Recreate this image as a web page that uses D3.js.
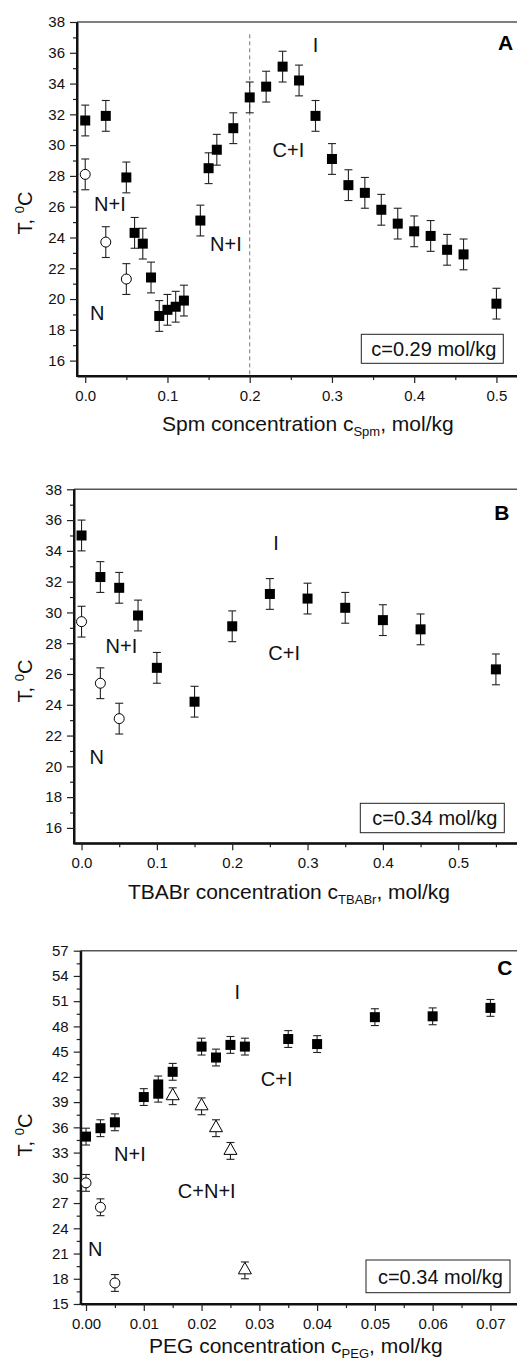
<!DOCTYPE html>
<html>
<head>
<meta charset="utf-8">
<script src="https://cdn.jsdelivr.net/npm/d3@7"></script>
<style>
body { margin: 0; background: #fff; }
svg { display: block; font-family: Arial, "Liberation Sans", sans-serif; }
.tick text { font-size: 15px; fill: #111; }
</style>
</head>
<body>
<div id="chart"></div>
<script>
var width = 517,
height = 1367;

var errT = 1; // all error bars are +-1 degC

// ---- panel A : Spm
var spmSqX = [0, 0.025, 0.05, 0.06, 0.07, 0.08, 0.09, 0.10, 0.11, 0.12, 0.14, 0.15, 0.16, 0.18, 0.20,
  0.22, 0.24, 0.26, 0.28, 0.30, 0.32, 0.34, 0.36, 0.38, 0.40, 0.42, 0.44, 0.46, 0.50];
var spmSqT = [31.6, 31.9, 27.9, 24.3, 23.6, 21.4, 18.9, 19.3, 19.5, 19.9, 25.1, 28.5, 29.7, 31.1, 33.1,
  33.8, 35.1, 34.2, 31.9, 29.1, 27.4, 26.9, 25.8, 24.9, 24.4, 24.1, 23.2, 22.9, 19.7];
var spmCircX = [0, 0.025, 0.05];
var spmCircT = [28.1, 23.7, 21.3];
var spmXTicks = [0, 0.1, 0.2, 0.3, 0.4, 0.5];
var spmXMinor = [0.05, 0.15, 0.25, 0.35, 0.45];
var spmYTicks = [16, 18, 20, 22, 24, 26, 28, 30, 32, 34, 36, 38];
var spmYMinor = [17, 19, 21, 23, 25, 27, 29, 31, 33, 35, 37];
var spmLabels = [["I", 0.28, 36.5], ["C+I", 0.247, 29.7], ["N+I", 0.030, 26.2], ["N+I", 0.171, 23.6], ["N", 0.0147, 19.1]];
var spmDivider = [0.2, 37.2]; // dashed line: x, top T

// ---- panel B : TBABr
var tbaSqX = [0, 0.025, 0.05, 0.075, 0.10, 0.15, 0.20, 0.25, 0.30, 0.35, 0.40, 0.45, 0.55];
var tbaSqT = [35.0, 32.3, 31.6, 29.8, 26.4, 24.2, 29.1, 31.2, 30.9, 30.3, 29.5, 28.9, 26.3];
var tbaCircX = [0, 0.025, 0.05];
var tbaCircT = [29.4, 25.4, 23.1];
var tbaXTicks = [0, 0.1, 0.2, 0.3, 0.4, 0.5];
var tbaXMinor = [0.05, 0.15, 0.25, 0.35, 0.45, 0.55];
var tbaYTicks = spmYTicks;
var tbaYMinor = spmYMinor;
var tbaLabels = [["I", 0.258, 34.5], ["C+I", 0.269, 27.4], ["N+I", 0.053, 27.8], ["N", 0.02, 20.6]];

// ---- panel C : PEG
var pegSqX = [0, 0.0025, 0.005, 0.010, 0.0125, 0.0125, 0.015, 0.020, 0.0225, 0.025, 0.0275, 0.035, 0.040, 0.050, 0.060, 0.070];
var pegSqT = [34.9, 35.9, 36.6, 39.6, 40.0, 41.1, 42.6, 45.6, 44.3, 45.8, 45.6, 46.5, 45.9, 49.1, 49.2, 50.2];
var pegCircX = [0, 0.0025, 0.005];
var pegCircT = [29.4, 26.5, 17.5];
var pegTriX = [0.015, 0.020, 0.0225, 0.025, 0.0275];
var pegTriT = [39.7, 38.5, 35.9, 33.2, 19.0];
var pegXTicks = [0, 0.01, 0.02, 0.03, 0.04, 0.05, 0.06, 0.07];
var pegXMinor = [0.005, 0.015, 0.025, 0.035, 0.045, 0.055, 0.065];
var pegYTicks = [15, 18, 21, 24, 27, 30, 33, 36, 39, 42, 45, 48, 51, 54, 57];
var pegYMinor = [16.5, 19.5, 22.5, 25.5, 28.5, 31.5, 34.5, 37.5, 40.5, 43.5, 46.5, 49.5, 52.5, 55.5];
var pegLabels = [["I", 0.0262, 52.1], ["C+I", 0.033, 41.75], ["N+I", 0.0076, 32.8], ["C+N+I", 0.0209, 28.5], ["N", 0.0016, 21.6]];

var svg = d3.select("#chart").append("svg")
.attr("width", width)
.attr("height", height);

var panels = [
  {letter: "A", letterAt: [0.511, 36.7], left: 77, right: 517, top: 22, bottom: 376,
   xDomain: [-0.01, 0.525], yDomain: [15, 38], xFmt: ".1f",
   xTicks: spmXTicks, xMinor: spmXMinor, yTicks: spmYTicks, yMinor: spmYMinor,
   sq: [spmSqX, spmSqT], circ: [spmCircX, spmCircT], tri: null, labels: spmLabels, divider: spmDivider,
   legend: "c=0.29 mol/kg", legRight: 503.3, legBottom: 363.3, legW: 142, legH: 29,
   title: "Spm concentration c", sub: "Spm", titleX: 162, titleY: 431, ylabY: 213},
  {letter: "B", letterAt: [0.558, 36.5], left: 74, right: 517, top: 489.3, bottom: 843.3,
   xDomain: [-0.01, 0.578], yDomain: [15, 38], xFmt: ".1f",
   xTicks: tbaXTicks, xMinor: tbaXMinor, yTicks: tbaYTicks, yMinor: tbaYMinor,
   sq: [tbaSqX, tbaSqT], circ: [tbaCircX, tbaCircT], tri: null, labels: tbaLabels, divider: null,
   legend: "c=0.34 mol/kg", legRight: 504.3, legBottom: 832.7, legW: 144, legH: 29.4,
   title: "TBABr concentration c", sub: "TBABr", titleX: 128, titleY: 899, ylabY: 681},
  {letter: "C", letterAt: [0.0725, 55.0], left: 80.7, right: 517, top: 950.7, bottom: 1304,
   xDomain: [-0.00092, 0.0746], yDomain: [15, 57], xFmt: ".2f",
   xTicks: pegXTicks, xMinor: pegXMinor, yTicks: pegYTicks, yMinor: pegYMinor,
   sq: [pegSqX, pegSqT], circ: [pegCircX, pegCircT], tri: [pegTriX, pegTriT], labels: pegLabels, divider: null,
   legend: "c=0.34 mol/kg", legRight: 510, legBottom: 1292.7, legW: 144, legH: 32.7,
   title: "PEG concentration c", sub: "PEG", titleX: 149, titleY: 1353, ylabY: 1135}
];

panels.forEach(drawPanel);

function drawPanel(p) {
  var x = d3.scaleLinear().domain(p.xDomain).range([p.left, p.right]);
  var y = d3.scaleLinear().domain(p.yDomain).range([p.bottom, p.top]);
  var g = svg.append("g");

  // top frame
  g.append("line")
    .attr("x1", p.left).attr("x2", p.right)
    .attr("y1", p.top).attr("y2", p.top)
    .attr("stroke", "#555").attr("stroke-width", 1.5);

  // minor ticks first
  g.append("g")
    .attr("transform", "translate(0," + p.bottom + ")")
    .call(d3.axisBottom(x).tickValues(p.xMinor).tickSize(4).tickSizeOuter(0).tickFormat(""));
  g.append("g")
    .attr("transform", "translate(" + p.left + ",0)")
    .call(d3.axisLeft(y).tickValues(p.yMinor).tickSize(4).tickSizeOuter(0).tickFormat(""));

  var xa = g.append("g")
    .attr("transform", "translate(0," + p.bottom + ")")
    .call(d3.axisBottom(x).tickValues(p.xTicks).tickSize(7).tickSizeOuter(0).tickPadding(7)
      .tickFormat(d3.format(p.xFmt)));
  var ya = g.append("g")
    .attr("transform", "translate(" + p.left + ",0)")
    .call(d3.axisLeft(y).tickValues(p.yTicks).tickSize(7).tickSizeOuter(0).tickPadding(5)
      .tickFormat(d3.format("d")));

  g.selectAll(".domain").attr("stroke", "#111").attr("stroke-width", 2);
  g.selectAll(".tick line").attr("stroke", "#222").attr("stroke-width", 1.2);
  g.selectAll(".tick text").attr("font-family", "Arial, 'Liberation Sans', sans-serif").style("font-size", "15px");
  // extend x domain line to the left axis
  xa.select(".domain").attr("d", "M" + (p.left - 1) + ",0H" + p.right);
  ya.select(".domain").attr("d", "M0," + p.top + "V" + (p.bottom + 1));

  if (p.divider) {
    g.append("line")
      .attr("x1", x(p.divider[0])).attr("x2", x(p.divider[0]))
      .attr("y1", y(p.divider[1])).attr("y2", p.bottom)
      .attr("stroke", "#777").attr("stroke-width", 1)
      .attr("stroke-dasharray", "4,3");
  }

  // collect all points for error bars
  var pts = [];
  function add(series, kind) {
    if (!series) return;
    series[0].forEach(function(v, i) { pts.push({x: v, t: series[1][i], kind: kind}); });
  }
  add(p.sq, "sq"); add(p.circ, "circ"); add(p.tri, "tri");

  var eb = g.append("g").attr("stroke", "#222").attr("stroke-width", 1.1);
  pts.forEach(function(d) {
    var cx = x(d.x), y1 = y(d.t + errT), y2 = y(d.t - errT);
    eb.append("line").attr("x1", cx).attr("x2", cx).attr("y1", y1).attr("y2", y2);
    eb.append("line").attr("x1", cx - 4).attr("x2", cx + 4).attr("y1", y1).attr("y2", y1);
    eb.append("line").attr("x1", cx - 4).attr("x2", cx + 4).attr("y1", y2).attr("y2", y2);
  });

  g.append("g").selectAll("rect")
    .data(pts.filter(function(d) { return d.kind == "sq"; }))
    .enter().append("rect")
    .attr("x", function(d) { return x(d.x) - 5; })
    .attr("y", function(d) { return y(d.t) - 5; })
    .attr("width", 10).attr("height", 10)
    .attr("fill", "#000");

  g.append("g").selectAll("circle")
    .data(pts.filter(function(d) { return d.kind == "circ"; }))
    .enter().append("circle")
    .attr("cx", function(d) { return x(d.x); })
    .attr("cy", function(d) { return y(d.t); })
    .attr("r", 5)
    .attr("fill", "#fff").attr("stroke", "#000").attr("stroke-width", 1);

  g.append("g").selectAll("path")
    .data(pts.filter(function(d) { return d.kind == "tri"; }))
    .enter().append("path")
    .attr("transform", function(d) { return "translate(" + x(d.x) + "," + y(d.t) + ")"; })
    .attr("d", "M0,-8L6.5,3.5L-6.5,3.5Z")
    .attr("fill", "#fff").attr("stroke", "#000").attr("stroke-width", 1);

  // region labels
  g.append("g").selectAll("text")
    .data(p.labels)
    .enter().append("text")
    .attr("x", function(d) { return x(d[1]); })
    .attr("y", function(d) { return y(d[2]); })
    .attr("dy", "0.36em")
    .attr("text-anchor", "middle")
    .attr("font-size", 20)
    .attr("fill", "#111")
    .text(function(d) { return d[0]; });

  g.append("text")
    .attr("x", x(p.letterAt[0]))
    .attr("y", y(p.letterAt[1]))
    .attr("dy", "0.36em")
    .attr("text-anchor", "middle")
    .attr("font-size", 21)
    .attr("font-weight", "bold")
    .text(p.letter);

  // legend box
  g.append("rect")
    .attr("x", p.legRight - p.legW).attr("y", p.legBottom - p.legH)
    .attr("width", p.legW).attr("height", p.legH)
    .attr("fill", "#fff").attr("stroke", "#222").attr("stroke-width", 1);
  g.append("text")
    .attr("x", p.legRight - 7)
    .attr("y", p.legBottom - p.legH / 2)
    .attr("dy", "0.36em")
    .attr("text-anchor", "end")
    .attr("font-size", 20)
    .attr("fill", "#111")
    .text(p.legend);

  // axis titles
  var t = g.append("text")
    .attr("x", p.titleX).attr("y", p.titleY)
    .attr("font-size", 21)
    .attr("fill", "#111")
    .text(p.title);
  t.append("tspan").attr("dy", 5).attr("font-size", 13).text(p.sub);
  t.append("tspan").attr("dy", -5).text(", mol/kg");

  var yl = g.append("text")
    .attr("transform", "translate(32," + p.ylabY + ") rotate(-90)")
    .attr("text-anchor", "middle")
    .attr("font-size", 20)
    .attr("fill", "#111")
    .text("T, ");
  yl.append("tspan").attr("dy", -8).attr("font-size", 13).text("0");
  yl.append("tspan").attr("dy", 8).text("C");
}
</script>
</body>
</html>
